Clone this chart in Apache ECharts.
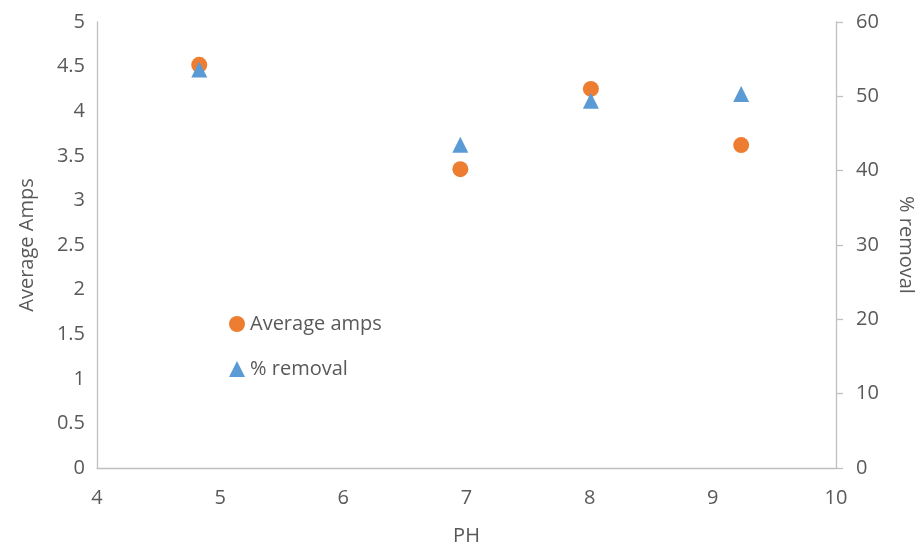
<!DOCTYPE html>
<html>
<head>
<meta charset="utf-8">
<script src="https://cdn.jsdelivr.net/npm/echarts@6/dist/echarts.min.js"></script>
<style>html,body{margin:0;padding:0;background:#fff;overflow:hidden}#c{width:919px;height:549px}</style>
</head>
<body>
<div id="c"></div>
<script>
const phValues = [4.83, 6.95, 8.01, 9.23];
const averageAmps = [4.52, 3.35, 4.25, 3.62];
const percentRemoval = [53.6, 43.5, 49.4, 50.3];
const xTicks = [4, 5, 6, 7, 8, 9, 10];
const leftTicks = [0, 0.5, 1, 1.5, 2, 2.5, 3, 3.5, 4, 4.5, 5];
const rightTicks = [0, 10, 20, 30, 40, 50, 60];

const FONT = 'Open Sans';
const labelColor = '#595959';
const lineColor = '#BFBFBF';
const FS = 20;

const chart = echarts.init(document.getElementById('c'), null, {renderer: 'canvas'});
chart.setOption({
  animation: false,
  textStyle: {fontFamily: FONT},
  grid: {left: 97, right: 83, top: 22, bottom: 81, containLabel: false, outerBoundsMode: 'none'},
  legend: {
    orient: 'vertical',
    left: 224, top: 309,
    itemWidth: 16, itemHeight: 16, itemGap: 25,
    textStyle: {fontSize: FS, color: labelColor, fontFamily: FONT},
    data: [{name: 'Average amps', icon: 'circle'}, {name: '% removal', icon: 'triangle'}]
  },
  xAxis: {
    type: 'value', min: xTicks[0], max: xTicks[xTicks.length - 1], interval: 1,
    name: 'PH', nameLocation: 'middle', nameGap: 58,
    nameTextStyle: {fontSize: FS, color: labelColor},
    axisLine: {show: true, lineStyle: {color: lineColor, width: 1.3}},
    axisTick: {show: false},
    splitLine: {show: false},
    axisLabel: {fontSize: FS, color: labelColor, margin: 20}
  },
  yAxis: [
    {
      type: 'value', min: leftTicks[0], max: leftTicks[leftTicks.length - 1], interval: 0.5,
      name: 'Average Amps', nameLocation: 'middle', nameGap: 60, nameRotate: 90,
      nameTextStyle: {fontSize: FS, color: labelColor},
      axisLine: {show: true, lineStyle: {color: lineColor, width: 1.3}},
      axisTick: {show: false},
      splitLine: {show: false},
      axisLabel: {fontSize: FS, color: labelColor, margin: 12}
    },
    {
      type: 'value', position: 'right', min: rightTicks[0], max: rightTicks[rightTicks.length - 1], interval: 10,
      name: '% removal', nameLocation: 'middle', nameGap: 60, nameRotate: -90,
      nameTextStyle: {fontSize: FS, color: labelColor},
      axisLine: {show: true, lineStyle: {color: lineColor, width: 1.3}},
      axisTick: {show: true, length: 7, lineStyle: {color: lineColor, width: 1.3}},
      splitLine: {show: false},
      axisLabel: {fontSize: FS, color: labelColor, margin: 20}
    }
  ],
  series: [
    {
      name: 'Average amps', type: 'scatter', yAxisIndex: 0,
      symbol: 'circle', symbolSize: 16,
      itemStyle: {color: '#ED7D31', opacity: 1},
      data: phValues.map((x, i) => [x, averageAmps[i]])
    },
    {
      name: '% removal', type: 'scatter', yAxisIndex: 1,
      symbol: 'triangle', symbolSize: 16,
      itemStyle: {color: '#5B9BD5', opacity: 1},
      data: phValues.map((x, i) => [x, percentRemoval[i]])
    }
  ]
});
</script>
</body>
</html>
